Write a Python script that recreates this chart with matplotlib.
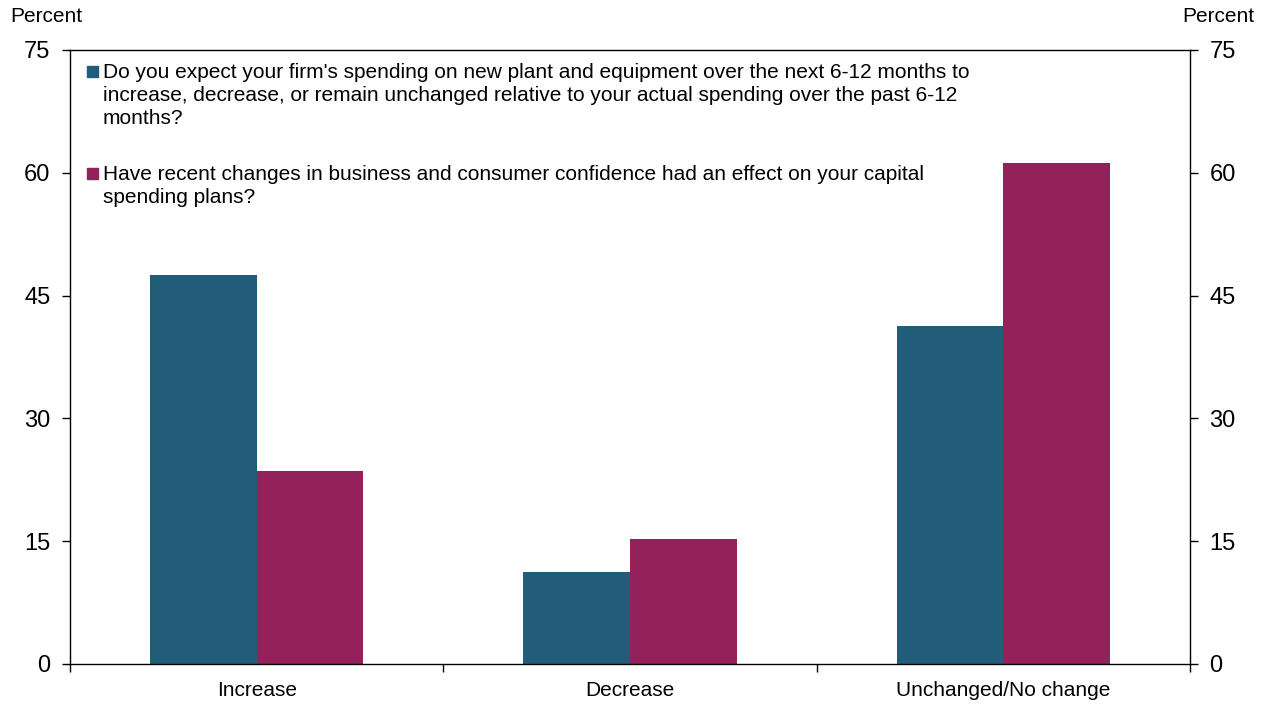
import numpy as np
import matplotlib.pyplot as plt
from matplotlib.patches import Rectangle

plt.rcParams['font.family'] = ['Liberation Sans', 'DejaVu Sans']

categories = ['Increase', 'Decrease', 'Unchanged/No change']
spending = [47.5, 11.2, 41.3]
confidence = [23.6, 15.3, 61.2]
labels = [
    ["Do you expect your firm's spending on new plant and equipment over the next 6-12 months to",
     "increase, decrease, or remain unchanged relative to your actual spending over the past 6-12",
     "months?"],
    ["Have recent changes in business and consumer confidence had an effect on your capital",
     "spending plans?"],
]
colors = ['#215d78', '#922259']
yticks = [0, 15, 30, 45, 60, 75]

W, H = 1266, 705
fig = plt.figure(figsize=(W / 100, H / 100), dpi=100)
ax = fig.add_axes([70 / W, 1 - 664 / H, 1120 / W, 614 / H])

x = np.arange(len(categories))
w = 0.286
ax.bar(x - w / 2, spending, w, color=colors[0])
ax.bar(x + w / 2, confidence, w, color=colors[1])

ax.set_xlim(-0.5, 2.5)
ax.set_ylim(0, 75)
ax.set_xticks([-0.5, 0.5, 1.5, 2.5])
ax.set_xticklabels([])
ax.set_xticks(x, minor=True)
ax.set_xticklabels(categories, minor=True, fontsize=15)
ax.tick_params(axis='x', which='major', direction='out', length=6, width=1)
ax.tick_params(axis='x', which='minor', length=0, pad=12)

ax.set_yticks(yticks)
ax.tick_params(axis='y', which='major', direction='out', length=6, width=1,
               labelsize=17, pad=8, right=True, labelright=True)
for lbl in ax.get_yticklabels() + ax.get_yticklabels(which='major'):
    lbl.set_fontweight('medium')
for s in ax.spines.values():
    s.set_linewidth(1)

fig.text(10 / W, 1 - 17 / H, 'Percent', fontsize=15, va='center', ha='left')
fig.text(1254 / W, 1 - 17 / H, 'Percent', fontsize=15, va='center', ha='right')

# legend drawn by hand so the square sits on the first line
first_base = [78, 180]
for lines, col, yb in zip(labels, colors, first_base):
    fig.patches.append(Rectangle((87 / W, 1 - (yb - 1) / H), 11 / W, 11 / H,
                                 transform=fig.transFigure, color=col))
    for k, line in enumerate(lines):
        fig.text(103 / W, 1 - (yb + 23 * k) / H, line, fontsize=15,
                 va='baseline', ha='left')

fig.savefig('out.png', dpi=100)
